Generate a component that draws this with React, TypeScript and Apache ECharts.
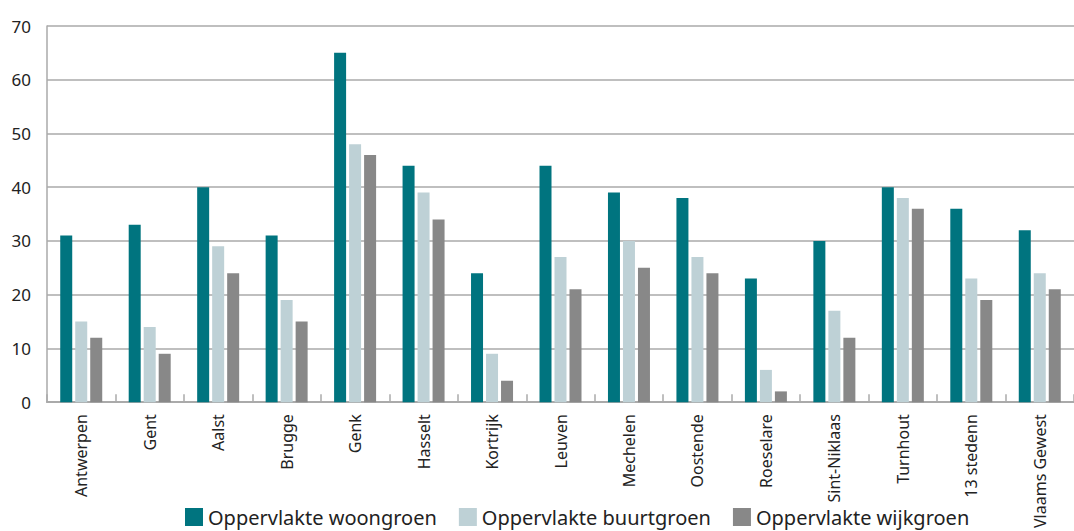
import React, { useEffect, useRef } from "react";
import * as echarts from "echarts";

const categories = [
  "Antwerpen", "Gent", "Aalst", "Brugge", "Genk", "Hasselt", "Kortrijk", "Leuven",
  "Mechelen", "Oostende", "Roeselare", "Sint-Niklaas", "Turnhout", "13 stedenn", "Vlaams Gewest",
];
const woongroen = [31, 33, 40, 31, 65, 44, 24, 44, 39, 38, 23, 30, 40, 36, 32];
const buurtgroen = [15, 14, 29, 19, 48, 39, 9, 27, 30, 27, 6, 17, 38, 23, 24];
const wijkgroen = [12, 9, 24, 15, 46, 34, 4, 21, 25, 24, 2, 12, 36, 19, 21];
const seriesNames = ["Oppervlakte woongroen", "Oppervlakte buurtgroen", "Oppervlakte wijkgroen"];
const colors = ["#00747f", "#bed1d6", "#888888"];

export default function App() {
  const ref = useRef<HTMLDivElement>(null);
  useEffect(() => {
    document.body.style.margin = "0";
    const chart = echarts.init(ref.current!, null, { renderer: "svg" });
    const font = "Noto Sans";
    const data = [woongroen, buurtgroen, wijkgroen];
    chart.setOption({
      animation: false,
      color: colors,
      textStyle: { fontFamily: font },
      grid: { left: 47, top: 26, width: 1035, height: 379 },
      legend: {
        left: 185,
        top: 507,
        padding: 0,
        itemWidth: 18,
        itemHeight: 18,
        itemGap: 22,
        icon: "rect",
        textStyle: { fontFamily: font, fontSize: 20, lineHeight: 20, color: "#222" },
        data: seriesNames,
      },
      xAxis: {
        type: "category",
        data: categories,
        axisLine: { show: true, lineStyle: { color: "#aaaaaa", width: 2 } },
        axisTick: { show: true, inside: true, length: 8, lineStyle: { color: "#aaaaaa", width: 1.5 } },
        axisLabel: {
          rotate: 90,
          margin: 12,
          interval: 0,
          fontFamily: font,
          fontSize: 16,
          color: "#222",
        },
      },
      yAxis: {
        type: "value",
        min: 0,
        max: 70,
        interval: 10,
        axisLine: { show: true, lineStyle: { color: "#aaaaaa", width: 1.5 } },
        axisTick: { show: false },
        splitLine: { show: true, lineStyle: { color: "#aaaaaa", width: 1.5 } },
        axisLabel: {
          margin: 16,
          fontFamily: font,
          fontSize: 17,
          color: "#222",
          padding: [0, 0, 9, 0],
        },
      },
      series: seriesNames.map((name, i) => ({
        name,
        type: "bar",
        data: data[i],
        barWidth: 12,
        barGap: "25%",
        itemStyle: { color: colors[i] },
      })),
    });
    return () => chart.dispose();
  }, []);
  return <div ref={ref} style={{ width: 1074, height: 531 }} />;
}
